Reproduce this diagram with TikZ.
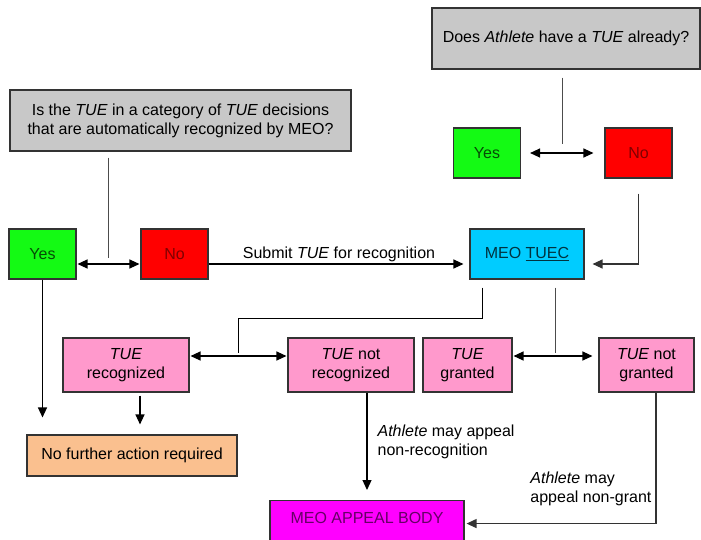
\documentclass[tikz,border=0pt]{standalone}
\usepackage{fontspec}
\setmainfont{Liberation Sans}
\usetikzlibrary{arrows.meta,calc}

\definecolor{askgray}{RGB}{200,200,200}
\definecolor{yesgreen}{RGB}{20,250,20}
\definecolor{nored}{RGB}{255,0,0}
\definecolor{tueccyan}{RGB}{0,204,255}
\definecolor{pinkbox}{RGB}{255,153,204}
\definecolor{peach}{RGB}{250,192,143}
\definecolor{appealmag}{RGB}{255,0,255}

\begin{document}
\begin{tikzpicture}[
    x=1pt, y=-1pt,
    box/.style={rectangle, draw=black!80, line width=1.1pt, inner sep=0pt, align=center, font=\fontsize{16}{19}\selectfont},
    ask/.style={box, fill=askgray, minimum height=61pt},
    yesbox/.style={box, fill=yesgreen, text=yesgreen!30!black, minimum width=67pt, minimum height=50pt},
    nobox/.style={box, fill=nored, text=nored!50!black, minimum width=67pt, minimum height=50pt},
    outcome/.style={box, fill=pinkbox, minimum height=54pt},
    arr/.style={-{Triangle[length=10pt,width=9pt]}, line width=1.2pt},
    dbl/.style={{Triangle[length=10pt,width=9pt]}-{Triangle[length=10pt,width=9pt]}, line width=1.2pt},
    link/.style={line width=0.9pt, draw=black!70},
    lbl/.style={font=\fontsize{16}{19}\selectfont, align=left, inner sep=0pt},
]
    \useasboundingbox (0,0) rectangle (701,539);
    \node[ask, minimum width=341pt] (q1) at (180.5,120.5) {Is the \textit{TUE} in a category of \textit{TUE} decisions\\that are automatically recognized by MEO?};
    \node[ask, minimum width=268pt] (q2) at (566,38.5) {Does \textit{Athlete} have a \textit{TUE} already?};
    \node[yesbox] (yes1) at (42.5,254) {Yes};
    \node[nobox] (no1) at (174.5,254) {No};
    \node[yesbox] (yes2) at (487,153) {Yes};
    \node[nobox] (no2) at (638.5,153) {No};
    \node[box, fill=tueccyan, text=tueccyan!25!black, minimum width=114pt, minimum height=50pt] (tuec) at (527,254) {MEO \underline{TUEC}};
    \node[outcome, minimum width=126pt] (rec) at (126,365) {\textit{TUE}\\recognized};
    \node[outcome, minimum width=126pt] (notrec) at (351,365) {\textit{TUE} not\\recognized};
    \node[outcome, minimum width=89pt] (granted) at (467.5,365) {\textit{TUE}\\granted};
    \node[outcome, minimum width=95pt] (notgranted) at (646.5,365) {\textit{TUE} not\\granted};
    \node[box, fill=peach, minimum width=210pt, minimum height=41pt] (done) at (132,455.5) {No further action required};
    \node[box, fill=appealmag, text=appealmag!40!black, minimum width=194pt, minimum height=42pt, text height=11.5pt, text depth=7pt, anchor=north] (appeal) at (367,500) {MEO APPEAL BODY};

    \coordinate (m1) at ($(yes1.east)!0.5!(no1.west)+(0,10)$);
    \draw[link, shorten <=6pt, shorten >=6pt] (q1.south -| m1) -- (m1);
    \draw[dbl, shorten <=1pt, shorten >=1pt] ([yshift=-10pt]yes1.east) -- ([yshift=-10pt]no1.west);
    \draw[arr, shorten >=6pt] ([yshift=-10pt]no1.east) -- node[lbl, above, inner sep=2pt] {Submit \textit{TUE} for recognition} ([yshift=-10pt]tuec.west);
    \coordinate (m2) at ($(yes2.east)!0.5!(no2.west)$);
    \draw[link, shorten <=8pt, shorten >=9pt] (q2.south -| m2) -- (m2);
    \draw[dbl, shorten <=9pt, shorten >=11pt] (yes2.east) -- (no2.west);
    \draw[arr, draw=black!80, shorten <=15pt, shorten >=8pt] (no2.south) |- ([yshift=-10pt]tuec.east);
    \coordinate (m3) at ($(rec.east)!0.5!(notrec.west)+(0,-9)$);
    \draw[link, draw=black, shorten <=8pt, shorten >=3pt] ([xshift=-45pt]tuec.south) |- ($(m3)+(0,-38)$) -- (m3);
    \draw[dbl, shorten <=1pt, shorten >=1pt] ([yshift=9pt]rec.east) -- ([yshift=9pt]notrec.west);
    \coordinate (m4) at ($(granted.east)!0.5!(notgranted.west)+(0,-9)$);
    \draw[link, shorten <=8pt, shorten >=3pt] (tuec.south -| m4) -- (m4);
    \draw[dbl, shorten <=1pt, shorten >=6pt] ([yshift=9pt]granted.east) -- ([yshift=9pt]notgranted.west);
    \draw[arr, shorten >=17pt] (yes1.south) -- (yes1.south |- done.north);
    \draw[arr, shorten <=3pt, shorten >=10pt] ([xshift=14pt]rec.south) -- ([xshift=14pt]rec.south |- done.north);
    \draw[arr, shorten >=10pt] (notrec.south -| appeal.north) -- node[lbl, right=10pt, yshift=4pt] {\textit{Athlete} may appeal\\non-recognition} (appeal.north);
    \draw[arr, draw=black!80, shorten >=2pt] ([xshift=9.5pt]notgranted.south) |- node[lbl, pos=0.5, anchor=south east, xshift=-4pt, yshift=17pt] {\textit{Athlete} may\\appeal non-grant} ([yshift=-2pt]appeal.east);
\end{tikzpicture}
\end{document}
